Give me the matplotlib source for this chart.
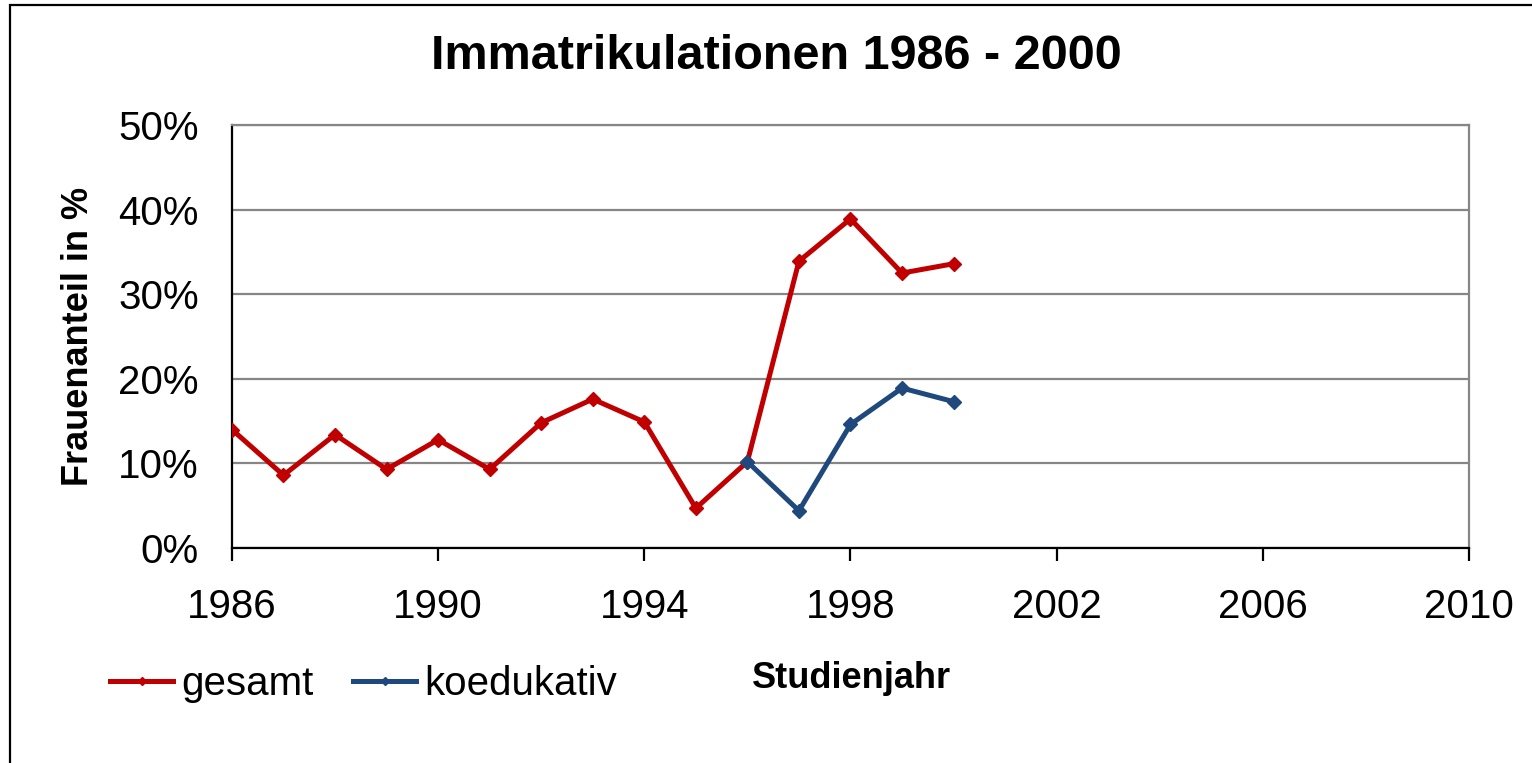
import matplotlib
matplotlib.use('Agg')

import matplotlib.pyplot as plt
from matplotlib.patches import Rectangle
from matplotlib.ticker import FuncFormatter

# Studienjahre und Frauenanteil in %
years_gesamt = [1986, 1987, 1988, 1989, 1990, 1991, 1992, 1993, 1994, 1995,
                1996, 1997, 1998, 1999, 2000]
gesamt = [14.0, 8.6, 13.4, 9.3, 12.8, 9.3, 14.8, 17.6, 14.9, 4.7,
          10.2, 33.9, 38.9, 32.5, 33.6]

years_koedukativ = [1996, 1997, 1998, 1999, 2000]
koedukativ = [10.2, 4.4, 14.6, 18.9, 17.3]

x_ticks = [1986, 1990, 1994, 1998, 2002, 2006, 2010]
y_ticks = [0, 10, 20, 30, 40, 50]

plt.rcParams['font.family'] = ['Liberation Sans', 'DejaVu Sans']

fig = plt.figure(figsize=(15.32, 7.63), dpi=100)
ax = fig.add_axes([0.1514, 0.2818, 0.8075, 0.5544])

red = '#C00000'
blue = '#1F497D'

ax.plot(years_gesamt, gesamt, color=red, lw=3.6, marker='D', ms=7,
        label='gesamt', zorder=3)
ax.plot(years_koedukativ, koedukativ, color=blue, lw=3.6, marker='D', ms=7,
        label='koedukativ', zorder=4)

ax.set_xlim(1986, 2010)
ax.set_ylim(0, 50)
ax.set_xticks(x_ticks)
ax.set_yticks(y_ticks)
ax.yaxis.set_major_formatter(FuncFormatter(lambda v, p: '%d%%' % v))

ax.grid(axis='y', color='#868686', lw=1.6)
ax.set_axisbelow(True)

for s in ['left', 'bottom']:
    ax.spines[s].set_color('black')
    ax.spines[s].set_linewidth(1.6)
for s in ['top', 'right']:
    ax.spines[s].set_color('#868686')
    ax.spines[s].set_linewidth(1.6)

ax.tick_params(axis='x', direction='out', length=9, width=1.6,
               labelsize=29, pad=20)
ax.tick_params(axis='y', length=0, labelsize=29, pad=24)

ax.set_ylabel('Frauenanteil in %', fontsize=26, fontweight='bold', labelpad=16)
fig.text(0.5555, 0.111, 'Studienjahr', fontsize=26, fontweight='bold',
         ha='center', va='center')

fig.text(0.5065, 1 - 69 / 763, 'Immatrikulationen 1986 - 2000', fontsize=35,
         fontweight='bold', ha='center', va='baseline')

fig.legend(loc='center left', bbox_to_anchor=(0.072, 0.103), ncol=2,
           frameon=False, fontsize=29, handlelength=1.55, handletextpad=0.2,
           columnspacing=1.0, markerscale=0.6, borderaxespad=0, borderpad=0)

# Rahmen um das Diagramm
fig.patches.append(Rectangle((10 / 1532, -0.1), 1.2, 1.1 - 5 / 763,
                             transform=fig.transFigure, fill=False,
                             edgecolor='black', lw=1.6))

fig.savefig('out.png', dpi=100)
